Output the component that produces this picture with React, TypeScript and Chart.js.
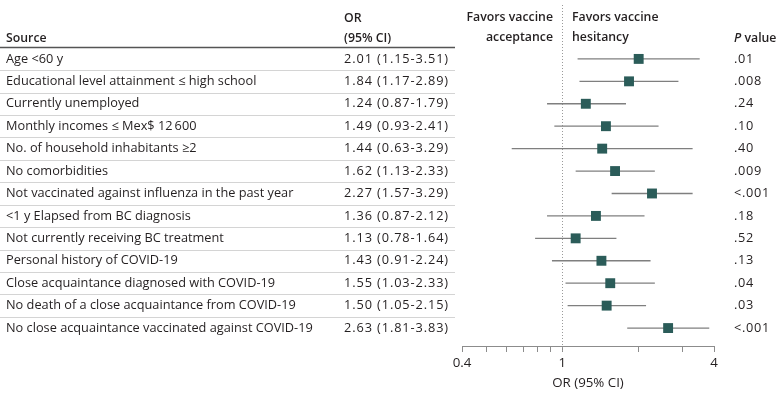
import React, { useEffect, useRef } from "react";
import { Chart, registerables } from "chart.js";

Chart.register(...registerables);

const SOURCES = [
  "Age <60 y",
  "Educational level attainment \u2264 high school",
  "Currently unemployed",
  "Monthly incomes \u2264 Mex$ 12\u2009600",
  "No. of household inhabitants \u22652",
  "No comorbidities",
  "Not vaccinated against influenza in the past year",
  "<1 y Elapsed from BC diagnosis",
  "Not currently receiving BC treatment",
  "Personal history of COVID-19",
  "Close acquaintance diagnosed with COVID-19",
  "No death of a close acquaintance from COVID-19",
  "No close acquaintance vaccinated against COVID-19",
];
const OR_VALUES = [2.01, 1.84, 1.24, 1.49, 1.44, 1.62, 2.27, 1.36, 1.13, 1.43, 1.55, 1.5, 2.63];
const CI_LOW = [1.15, 1.17, 0.87, 0.93, 0.63, 1.13, 1.57, 0.87, 0.78, 0.91, 1.03, 1.05, 1.81];
const CI_HIGH = [3.51, 2.89, 1.79, 2.41, 3.29, 2.33, 3.29, 2.12, 1.64, 2.24, 2.33, 2.15, 3.83];
const P_VALUES = [".01", ".008", ".24", ".10", ".40", ".009", "<.001", ".18", ".52", ".13", ".04", ".03", "<.001"];
const X_TICKS = [0.4, 0.5, 0.6, 0.7, 0.8, 0.9, 1, 2, 3, 4];
const X_TICK_LABELS = ["0.4", "", "", "", "", "", "1", "", "", "4"];
const X_TITLE = "OR (95% CI)";
const REF_VALUE = 1;

const FONT = "'Open Sans', 'Noto Sans', sans-serif";
const FS = 12.75;
const HFS = 12.3;
const AFS = 13.3;
const TEXT = "#231f20";
const SQUARE = "#2b5c59";
const CI_COLOR = "#7f7f7f";
const AXIS = "#8c8c8c";

const tablePlugin = {
  id: "tablePlugin",
  beforeDatasetsDraw(chart: any) {
    const ctx = chart.ctx;
    const x = chart.scales.x.getPixelForValue(REF_VALUE);
    ctx.save();
    ctx.strokeStyle = "#9a9a9a";
    ctx.lineWidth = 1;
    ctx.setLineDash([1, 2]);
    ctx.beginPath();
    ctx.moveTo(Math.round(x) + 0.5, 5);
    ctx.lineTo(Math.round(x) + 0.5, 353);
    ctx.stroke();
    ctx.restore();
  },
  afterDraw(chart: any) {
    const ctx = chart.ctx;
    const y = chart.scales.y;
    ctx.save();
    ctx.fillStyle = TEXT;
    ctx.textBaseline = "middle";
    // headers
    ctx.font = `600 ${HFS}px ${FONT}`;
    ctx.textAlign = "left";
    ctx.fillText("Source", 6, 38);
    ctx.fillText("OR", 344, 18);
    ctx.fillText("(95% CI)", 344, 38);
    ctx.textAlign = "right";
    ctx.fillText("Favors vaccine", 553, 17);
    ctx.fillText("acceptance", 553, 37);
    ctx.textAlign = "left";
    ctx.fillText("Favors vaccine", 572, 17);
    ctx.fillText("hesitancy", 572, 37);
    ctx.font = `italic 600 ${HFS}px ${FONT}`;
    ctx.fillText("P", 734, 38);
    const pw = ctx.measureText("P").width;
    ctx.font = `600 ${HFS}px ${FONT}`;
    ctx.fillText(" value", 734 + pw, 38);

    // header rule
    ctx.strokeStyle = "#555";
    ctx.lineWidth = 1.5;
    ctx.beginPath();
    ctx.moveTo(0, 47.5);
    ctx.lineTo(455, 47.5);
    ctx.stroke();

    // row separators
    ctx.strokeStyle = "#d4d4d4";
    ctx.lineWidth = 1;
    for (let i = 0; i < SOURCES.length - 1; i++) {
      const yy = (y.getPixelForValue(i) + y.getPixelForValue(i + 1)) / 2;
      ctx.beginPath();
      ctx.moveTo(0, Math.round(yy) + 0.5);
      ctx.lineTo(455, Math.round(yy) + 0.5);
      ctx.stroke();
    }

    ctx.font = `${FS}px ${FONT}`;
    for (let i = 0; i < SOURCES.length; i++) {
      const yy = y.getPixelForValue(i);
      ctx.textAlign = "left";
      (ctx as any).letterSpacing = "0px";
      ctx.fillText(SOURCES[i], 6, yy);
      (ctx as any).letterSpacing = "0.9px";
      ctx.fillText(
        `${OR_VALUES[i].toFixed(2)} (${CI_LOW[i].toFixed(2)}-${CI_HIGH[i].toFixed(2)})`,
        344,
        yy
      );
      (ctx as any).letterSpacing = "0.7px";
      ctx.fillText(P_VALUES[i], 734, yy);
    }
    (ctx as any).letterSpacing = "0px";
    ctx.restore();
  },
};

export default function App() {
  const ref = useRef<HTMLCanvasElement>(null);
  useEffect(() => {
    if (!ref.current) return;
    const ciDatasets = SOURCES.map((_, i) => ({
      type: "scatter" as const,
      data: [
        { x: CI_LOW[i], y: i },
        { x: CI_HIGH[i], y: i },
      ],
      showLine: true,
      borderColor: CI_COLOR,
      borderWidth: 1.3,
      pointRadius: 0,
      order: 1,
    }));
    const chart = new Chart(ref.current, {
      type: "scatter",
      data: {
        datasets: [
          {
            data: OR_VALUES.map((v, i) => ({ x: v, y: i })),
            pointStyle: "rect",
            pointRadius: 7,
            pointHoverRadius: 7,
            backgroundColor: SQUARE,
            borderColor: SQUARE,
            borderWidth: 0,
            order: 0,
          },
          ...ciDatasets,
        ] as any,
      },
      options: {
        animation: false,
        responsive: false,
        devicePixelRatio: 1,
        layout: { padding: { left: 462, right: 66, top: 8, bottom: 0 } },
        plugins: { legend: { display: false }, tooltip: { enabled: false } },
        scales: {
          x: {
            type: "logarithmic",
            min: 0.4,
            max: 4,
            afterBuildTicks: (s: any) => {
              s.ticks = X_TICKS.map((v) => ({ value: v }));
            },
            afterFit: (s: any) => {
              s.height = 56;
            },
            ticks: {
              autoSkip: false,
              maxRotation: 0,
              padding: 3,
              color: TEXT,
              font: { family: FONT, size: AFS },
              callback: (_v: any, i: number) => X_TICK_LABELS[i],
            },
            grid: { drawOnChartArea: false, drawTicks: true, tickLength: 6, color: AXIS },
            border: { color: AXIS, width: 1 },
            title: {
              display: true,
              text: X_TITLE,
              color: TEXT,
              font: { family: FONT, size: AFS },
              padding: { top: 0, bottom: 11 },
            },
          },
          y: {
            type: "linear",
            reverse: true,
            min: -2.27,
            max: 12.8,
            display: false,
          },
        },
      },
      plugins: [tablePlugin],
    });
    return () => chart.destroy();
  }, []);
  return (
    <div style={{ position: "absolute", left: 0, top: 0, width: 780, height: 402, background: "#fff" }}>
      <canvas ref={ref} width={780} height={402} style={{ display: "block" }} />
    </div>
  );
}
